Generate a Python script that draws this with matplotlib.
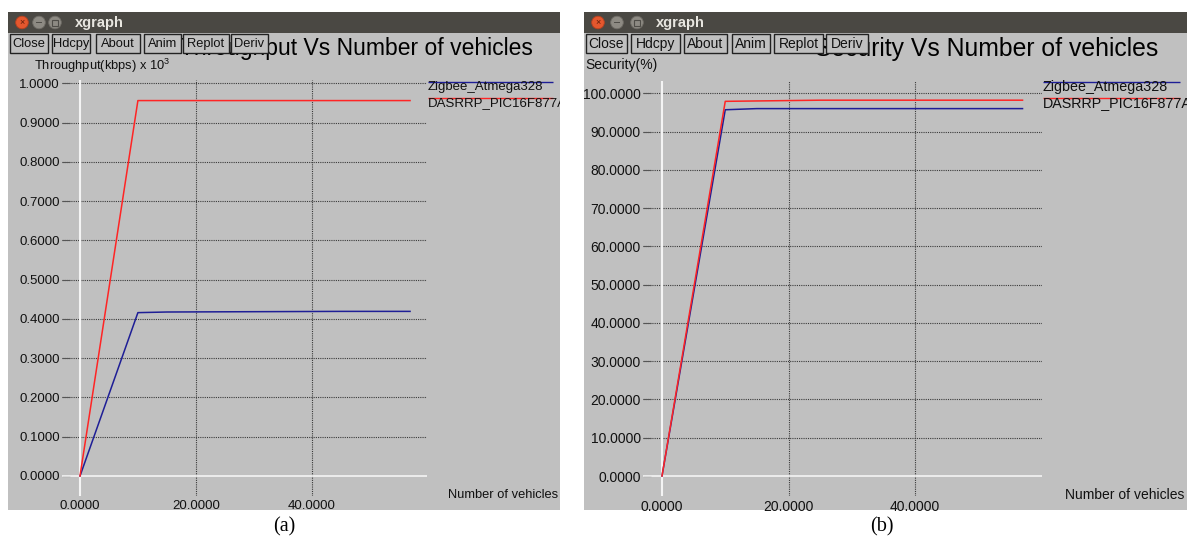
import matplotlib
matplotlib.use('Agg')
import matplotlib.pyplot as plt
from matplotlib.patches import Rectangle, Circle
from matplotlib.transforms import Bbox

plt.rcParams['font.family'] = ['Liberation Sans', 'DejaVu Sans']
plt.rcParams['mathtext.fontset'] = 'custom'
plt.rcParams['mathtext.rm'] = 'Liberation Sans'
plt.rcParams['mathtext.it'] = 'Liberation Sans'

# ---------------- data ----------------
series_names = ['Zigbee_Atmega328', 'DASRRP_PIC16F877A']
series_colors = ['#1e1e96', '#ff2424']

thr_x_zigbee = [0, 10, 15, 45, 57]
thr_y_zigbee = [0.0, 0.416, 0.4176, 0.4192, 0.4192]
thr_x_dasrrp = [0, 10, 57]
thr_y_dasrrp = [0.0, 0.956, 0.956]

sec_x_zigbee = [0, 10, 15, 57]
sec_y_zigbee = [0.0, 95.7, 96.0, 96.0]
sec_x_dasrrp = [0, 10, 25, 57]
sec_y_dasrrp = [0.0, 97.9, 98.2, 98.2]

thr_yticks = [0.0, 0.1, 0.2, 0.3, 0.4, 0.5, 0.6, 0.7, 0.8, 0.9, 1.0]
sec_yticks = [0, 10, 20, 30, 40, 50, 60, 70, 80, 90, 100]
x_ticks = [0, 20, 40]
button_labels = ['Close', 'Hdcpy', 'About', 'Anim', 'Replot', 'Deriv']

W, H = 1195, 540
DPI = 100
fig = plt.figure(figsize=(W / DPI, H / DPI), dpi=DPI)
fig.patch.set_facecolor('white')

bg = fig.add_axes([0, 0, 1, 1])
bg.set_xlim(0, W)
bg.set_ylim(H, 0)
bg.axis('off')

GRAY = '#c0c0c0'


def clip_to(artist, box):
    artist.set_clip_path(None)
    artist.set_clip_box(box)
    artist.set_clip_on(True)


def draw_window(win, buttons, circ_x, app_x, title, title_right, ylabel, ylabel_xy,
                xlab_xy, leg_x, leg_x2, caption, caption_x, k):
    l, t, r, b = win
    box = Bbox.from_extents(l, H - b, r, H - t)  # display pixels
    bg.add_patch(Rectangle((l, t), r - l, b - t, facecolor=GRAY, edgecolor='none', zorder=1))
    bg.add_patch(Rectangle((l, t), r - l, 21, facecolor='#4a4843', edgecolor='none', zorder=2))
    bg.add_patch(Circle((circ_x[0], t + 10.5), 6.3, facecolor='#e4572e', edgecolor='#b8401e', lw=0.6, zorder=3))
    bg.text(circ_x[0], t + 10.7, '×', fontsize=6.5, color='#5a1a08', ha='center', va='center', zorder=4)
    for cx in circ_x[1:]:
        bg.add_patch(Circle((cx, t + 10.5), 6.3, facecolor='#8d8a83', edgecolor='#6f6c66', lw=0.6, zorder=3))
    bg.add_patch(Rectangle((circ_x[1] - 3, t + 9.8), 6, 1.6, facecolor='#4f4d48', edgecolor='none', zorder=4))
    bg.add_patch(Rectangle((circ_x[2] - 3, t + 7.5), 6, 6, facecolor='none', edgecolor='#4f4d48', lw=0.8, zorder=4))
    bg.text(app_x, t + 10.5, 'xgraph', fontsize=10.5, fontweight='bold', color='#e8e6e0',
            ha='left', va='center', zorder=4)
    # plot title (partly hidden behind the buttons, as in xgraph)
    bg.text(title_right, 49, title, fontsize=16.5 * k, color='black', ha='right', va='center', zorder=3)
    for (bl, br), lab in zip(buttons, button_labels):
        bg.add_patch(Rectangle((bl, 34), br - bl, 19, facecolor=GRAY, edgecolor='#222222', lw=1.0, zorder=5))
        bg.text((bl + br) / 2, 43.8, lab, fontsize=9.3 * k, color='#111111', ha='center', va='center', zorder=6)
    bg.text(ylabel_xy[0], ylabel_xy[1], ylabel, fontsize=9.3 * k, color='#111111', ha='left', va='center', zorder=3)
    xl = bg.text(xlab_xy[0], xlab_xy[1], 'Number of vehicles', fontsize=9.3 * k, color='#111111',
                 ha='left', va='center', zorder=3)
    clip_to(xl, box)
    # legend
    for i, (name, col) in enumerate(zip(series_names, series_colors)):
        y0 = 81.5 + 16 * i
        bg.plot([leg_x, leg_x2], [y0, y0], color=col, lw=1.0, zorder=3, solid_capstyle='butt')
        tx = bg.text(leg_x, y0 + 5.3, name, fontsize=9.5 * k, color='#111111', ha='left', va='center', zorder=3)
        clip_to(tx, box)
    bg.text(caption_x, 527, caption, fontsize=14.5, family='Liberation Serif',
            ha='center', va='center', zorder=3)


def data_axes(origin, sx, sy, left_px, right_units, top_px, bottom_px, yticks, xs, ys, k):
    ox, oy = origin
    x0 = (left_px - ox) / sx
    x1 = right_units
    y0 = (oy - bottom_px) / sy
    y1 = (oy - top_px) / sy
    right_px = ox + x1 * sx
    ax = fig.add_axes([left_px / W, 1 - bottom_px / H, (right_px - left_px) / W, (bottom_px - top_px) / H])
    ax.set_xlim(x0, x1)
    ax.set_ylim(y0, y1)
    ax.patch.set_alpha(0)
    for s in ax.spines.values():
        s.set_visible(False)
    for yv in yticks:
        if yv == 0:
            continue
        ax.axhline(yv, color='#3a3a3a', lw=0.8, ls=(0, (1, 1)), zorder=1)
    for xv in x_ticks[1:]:
        ax.axvline(xv, color='#3a3a3a', lw=0.8, ls=(0, (1, 1)), zorder=1)
    ax.axhline(0, color='#f4f4f4', lw=1.2, zorder=2)
    ax.axvline(0, color='#f4f4f4', lw=1.5, zorder=2)
    ax.set_yticks(yticks)
    ax.set_yticklabels(['%.4f' % v for v in yticks])
    ax.set_xticks(x_ticks)
    ax.set_xticklabels(['%.4f' % v for v in x_ticks])
    ax.tick_params(axis='y', direction='in', length=6, width=0.8, color='#555555', pad=1.5,
                   labelsize=9.5 * k, labelcolor='#111111')
    ax.tick_params(axis='x', length=0, pad=3, labelsize=9.5 * k, labelcolor='#111111')
    for x, y, c in zip(xs, ys, series_colors):
        ax.plot(x, y, color=c, lw=1.1, zorder=3)
    return ax


# ---- window (a) ----
draw_window((8, 12, 560, 510),
            [(10, 48), (52, 90), (96, 140), (144, 181), (183, 229), (231, 268)],
            (22, 39, 55), 75, 'Throughput Vs Number of vehicles', 533,
            r'Throughput(kbps) x 10$^{3}$', (34, 66), (448, 495), 428, 553, '(a)', 284, 1.0)
data_axes((80, 476), 5.79, 392.7, 62, 60, 80, 496, thr_yticks,
          [thr_x_zigbee, thr_x_dasrrp], [thr_y_zigbee, thr_y_dasrrp], 1.0)

# ---- window (b) ----
draw_window((584, 12, 1187, 510),
            [(586, 627), (631, 680), (684, 727), (732, 770), (774, 823), (826, 868)],
            (598, 617, 637), 656, 'Security Vs Number of vehicles', 1158,
            'Security(%)', (585, 65), (1065, 495), 1043, 1180, '(b)', 882, 1.08)
data_axes((662, 476), 6.325, 3.827, 643, 60, 81, 496, sec_yticks,
          [sec_x_zigbee, sec_x_dasrrp], [sec_y_zigbee, sec_y_dasrrp], 1.05)

fig.savefig('out.png', dpi=DPI)
